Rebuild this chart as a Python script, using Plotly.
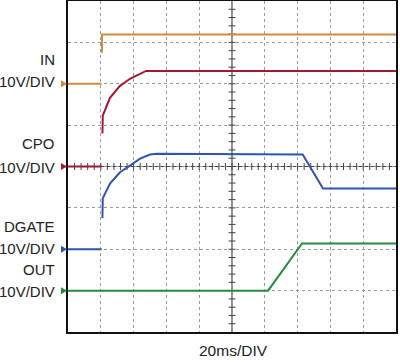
import plotly.graph_objects as go

# time axis in ms (20 ms/DIV, 10 divisions), vertical axis in divisions (0..8)
in_x = [0, 20.5, None, 20.7, 20.7, 200]
in_y = [6.0, 6.0, None, 6.75, 7.19, 7.19]

cpo_x = [0, 20.5, None, 21.0, 21.2, 25.6, 31.7, 37.8, 43.9, 47.6, 200]
cpo_y = [4.0, 4.0, None, 4.80, 5.23, 5.66, 5.95, 6.12, 6.24, 6.31, 6.31]

dgate_x = [0, 20.5, None, 21.0, 21.2, 25.6, 31.7, 37.8, 43.9, 50.0, 54.3, 143.1, 155.5, 200]
dgate_y = [2.0, 2.0, None, 2.75, 3.23, 3.59, 3.86, 4.02, 4.19, 4.29, 4.31, 4.29, 3.47, 3.47]

out_x = [0, 122.0, 142.7, 200]
out_y = [1.0, 1.0, 2.14, 2.14]

channel_names = ["IN", "CPO", "DGATE", "OUT"]
channel_scale = "10V/DIV"
ground_levels = [6.0, 4.0, 2.0, 1.0]
time_label = "20ms/DIV"

colors = ["#d08a40", "#a01a32", "#2f55b0", "#2a8a3c"]
FONT = "Liberation Sans, Arial, sans-serif"

W, H = 400, 362
ML, MR, MT, MB = 68, 4, 1, 30
PW, PH = W - ML - MR, H - MT - MB


def px_to_paper_x(px):
    return (px - ML) / PW


def px_to_paper_y(py):
    return (H - MB - py) / PH


fig = go.Figure()

# center crosshair minor ticks
tick_x = [i * 4 for i in range(1, 50)]
fig.add_trace(go.Scatter(x=tick_x, y=[4] * len(tick_x), mode="markers",
                         marker=dict(symbol="line-ns", size=5, line=dict(width=1, color="#444")),
                         hoverinfo="skip", showlegend=False))
tick_y = [i * 0.2 for i in range(1, 40)]
fig.add_trace(go.Scatter(x=[100] * len(tick_y), y=tick_y, mode="markers",
                         marker=dict(symbol="line-ew", size=5, line=dict(width=1, color="#444")),
                         hoverinfo="skip", showlegend=False))

for xs, ys, c in [(in_x, in_y, colors[0]), (cpo_x, cpo_y, colors[1]),
                  (dgate_x, dgate_y, colors[2]), (out_x, out_y, colors[3])]:
    fig.add_trace(go.Scatter(x=xs, y=ys, mode="lines", line=dict(color=c, width=2),
                             showlegend=False, hoverinfo="skip"))

shapes = [
    dict(type="line", xref="x", yref="y", x0=100, x1=100, y0=0, y1=8,
         line=dict(color="#444", width=1.2), layer="below"),
    dict(type="line", xref="x", yref="y", x0=0, x1=200, y0=4, y1=4,
         line=dict(color="#444", width=1.2), layer="below"),
]
# ground marker triangles (left of the frame)
for g, c in zip(ground_levels, colors):
    yc = g / 8.0
    x0 = px_to_paper_x(61)
    x1 = px_to_paper_x(67)
    dy = 3.5 / PH
    shapes.append(dict(type="path", xref="paper", yref="paper",
                       path=f"M {x0} {yc - dy} L {x1} {yc} L {x0} {yc + dy} Z",
                       fillcolor=c, line=dict(width=0)))

name_py = [60, 143.5, 226, 269]
scale_py = [81.5, 167, 248, 291]
annotations = []
for n, ny, sy in zip(channel_names, name_py, scale_py):
    for txt, py in [(n, ny), (channel_scale, sy)]:
        annotations.append(dict(x=px_to_paper_x(57), y=px_to_paper_y(py), xref="paper", yref="paper",
                                text=txt, showarrow=False, xanchor="right", yanchor="middle",
                                font=dict(family=FONT, size=15, color="#222")))
annotations.append(dict(x=px_to_paper_x(233), y=px_to_paper_y(350), xref="paper", yref="paper",
                        text=time_label, showarrow=False, xanchor="center", yanchor="middle",
                        font=dict(family=FONT, size=15.5, color="#222")))

fig.update_layout(
    width=W, height=H,
    margin=dict(l=ML, r=MR, t=MT, b=MB, autoexpand=False),
    paper_bgcolor="white", plot_bgcolor="white",
    annotations=annotations,
    shapes=shapes,
)
fig.update_xaxes(range=[0, 200], dtick=20, showgrid=True, gridcolor="#9a9a9a", griddash="dot",
                 gridwidth=1, showticklabels=False, ticks="", zeroline=False, automargin=False,
                 showline=True, mirror=True, linecolor="#111", linewidth=2)
fig.update_yaxes(range=[0, 8], dtick=1, showgrid=True, gridcolor="#9a9a9a", griddash="dot",
                 gridwidth=1, showticklabels=False, ticks="", zeroline=False, automargin=False,
                 showline=True, mirror=True, linecolor="#111", linewidth=2)

fig.write_html("out.html", config={"displayModeBar": False},
               post_script="document.body.style.margin='0';")
